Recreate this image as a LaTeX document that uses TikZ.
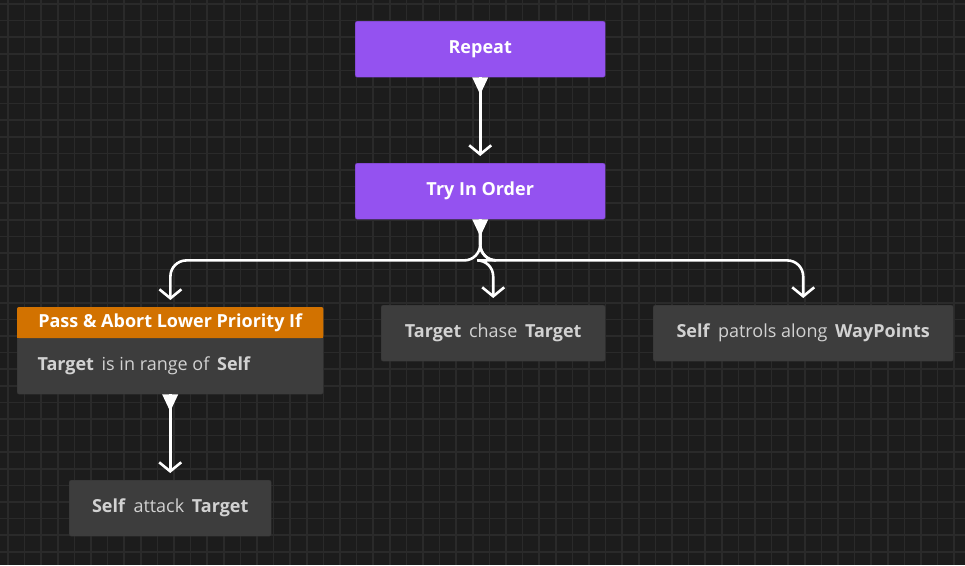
\documentclass[tikz,border=0pt]{standalone}
\usepackage{fontspec}
\setmainfont{Open Sans}
\usetikzlibrary{arrows.meta}
\definecolor{bgcol}{HTML}{1C1C1C}
\definecolor{gridcol}{HTML}{2A2A2A}
\definecolor{purp}{HTML}{9452F0}
\definecolor{orng}{HTML}{D27200}
\definecolor{bodycol}{HTML}{3D3D3D}
\definecolor{txtcol}{HTML}{D2D2D2}

\tikzset{
  box/.style={draw=black!80,rounded corners=2pt,minimum height=56pt,anchor=north west,
    inner sep=0pt,font=\fontsize{18}{21}\selectfont,text=txtcol},
  comp/.style={box,fill=purp,draw=purp!70!black,text=white,font=\fontsize{18}{21}\selectfont\bfseries},
  act/.style={box,fill=bodycol},
  edge/.style={draw=white,line width=2.6pt,rounded corners=16pt,
    -{Straight Barb[length=9pt,width=22pt,line width=2.6pt]},shorten >=7pt},
}
\newcommand\kw[1]{\textbf{#1}}
\newcommand\srcmark[1]{\fill[white] ([xshift=-8pt]#1) -- ([xshift=8pt]#1) -- ([yshift=-17pt]#1) -- cycle;}

\begin{document}
\begin{tikzpicture}[x=1pt,y=-1pt]
\useasboundingbox (0,0) rectangle (965,565);
\fill[bgcol] (0,0) rectangle (965,565);
\foreach \g in {0,16.6,...,965} \draw[gridcol,line width=1.5pt] (\g+8,0) -- (\g+8,565);
\foreach \g in {0,16.6,...,565} \draw[gridcol,line width=1.5pt] (0,\g+4) -- (965,\g+4);

\node[comp,minimum width=250pt] (rep) at (355,21) {Repeat};
\node[comp,minimum width=250pt] (try) at (355,163) {Try In Order};
% conditional node: header plus body
\node[act,minimum width=306pt,minimum height=87pt] (cond) at (17,307) {};
\fill[orng,rounded corners=2pt] (cond.north west) rectangle ([yshift=-31pt]cond.north east);
\fill[orng] ([yshift=-10pt]cond.north west) rectangle ([yshift=-31pt]cond.north east);
\node[text=white,font=\fontsize{18}{21}\selectfont\bfseries] (hdr) at ([yshift=-16pt]cond.north) {Pass \& Abort Lower Priority If};
\node[anchor=west,text=txtcol,font=\fontsize{18}{21}\selectfont] (cnd) at (34,366) {\kw{Target}\, is in range of\, \kw{Self}};
\node[act,minimum width=224pt] (chase) at (381,305) {\kw{Target}\, chase\, \kw{Target}};
\node[act,minimum width=300pt] (patrol) at (653,305) {\kw{Self}\, patrols along\, \kw{WayPoints}};
\node[act,minimum width=202pt] (atk) at (69,480) {\kw{Self}\, attack\, \kw{Target}};

\draw[edge] (rep.south) -- (try.north);
\draw[edge] (try.south) -- ++(0,41) -| ([xshift=-153pt]cond.north east);
\draw[edge] (try.south) -- ++(0,41) -| (chase.north);
\draw[edge] (try.south) -- ++(0,41) -| (patrol.north);
\draw[edge] (cond.south) -- (atk.north);
\srcmark{rep.south}
\srcmark{try.south}
\srcmark{cond.south}
\end{tikzpicture}
\end{document}
